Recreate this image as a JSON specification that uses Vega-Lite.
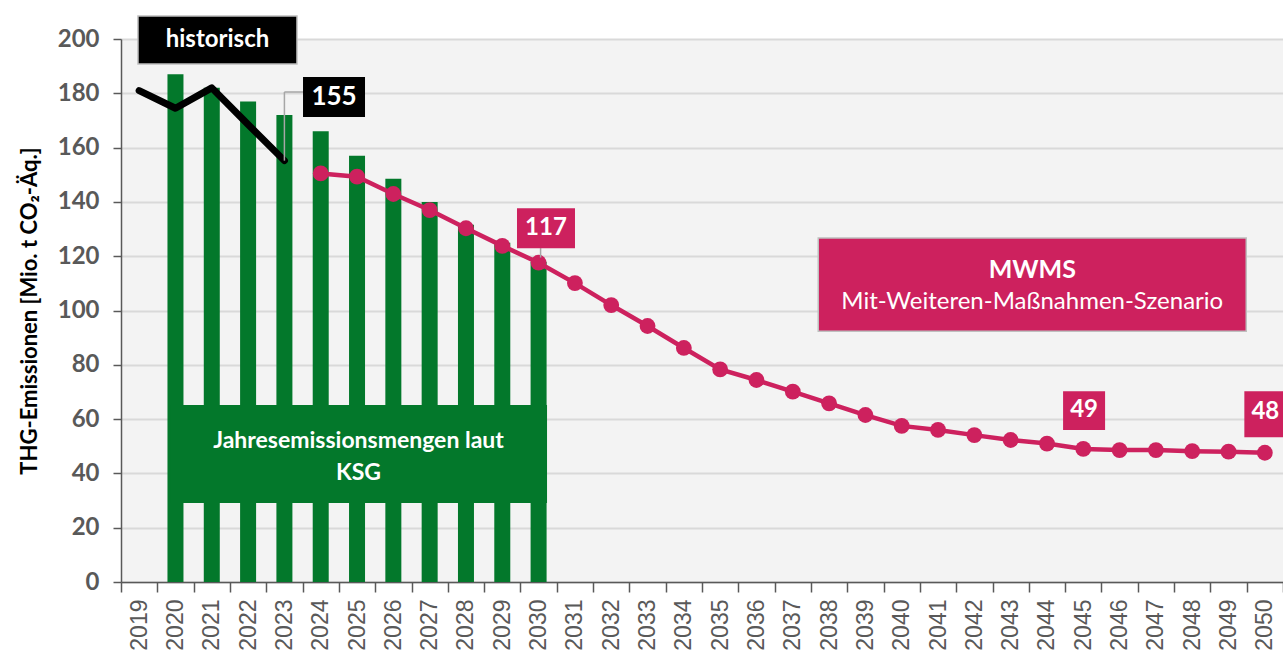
{
  "$schema": "https://vega.github.io/schema/vega-lite/v6.json",
  "width": 1162,
  "height": 543,
  "autosize": "none",
  "padding": {"left": 121, "top": 39, "right": 0, "bottom": 75},
  "background": "white",
  "config": {
    "view": {"stroke": null, "fill": "#f3f3f3"},
    "font": "Lato"
  },
  "datasets": {
    "series": [
      {"year": "2019", "ksg": null, "hist": 181, "mwms": null},
      {"year": "2020", "ksg": 187, "hist": 174.5, "mwms": null},
      {"year": "2021", "ksg": 182, "hist": 182, "mwms": null},
      {"year": "2022", "ksg": 177, "hist": 168.5, "mwms": null},
      {"year": "2023", "ksg": 172, "hist": 155.2, "mwms": null},
      {"year": "2024", "ksg": 166, "hist": null, "mwms": 150.5},
      {"year": "2025", "ksg": 157, "hist": null, "mwms": 149.3},
      {"year": "2026", "ksg": 148.5, "hist": null, "mwms": 142.9},
      {"year": "2027", "ksg": 140, "hist": null, "mwms": 137},
      {"year": "2028", "ksg": 131.6, "hist": null, "mwms": 130.3},
      {"year": "2029", "ksg": 125, "hist": null, "mwms": 123.8},
      {"year": "2030", "ksg": 118, "hist": null, "mwms": 117.6},
      {"year": "2031", "ksg": null, "hist": null, "mwms": 110.1},
      {"year": "2032", "ksg": null, "hist": null, "mwms": 102},
      {"year": "2033", "ksg": null, "hist": null, "mwms": 94.3},
      {"year": "2034", "ksg": null, "hist": null, "mwms": 86.2},
      {"year": "2035", "ksg": null, "hist": null, "mwms": 78.3},
      {"year": "2036", "ksg": null, "hist": null, "mwms": 74.4},
      {"year": "2037", "ksg": null, "hist": null, "mwms": 70.1},
      {"year": "2038", "ksg": null, "hist": null, "mwms": 65.8},
      {"year": "2039", "ksg": null, "hist": null, "mwms": 61.5},
      {"year": "2040", "ksg": null, "hist": null, "mwms": 57.5},
      {"year": "2041", "ksg": null, "hist": null, "mwms": 56},
      {"year": "2042", "ksg": null, "hist": null, "mwms": 54.1},
      {"year": "2043", "ksg": null, "hist": null, "mwms": 52.3},
      {"year": "2044", "ksg": null, "hist": null, "mwms": 51},
      {"year": "2045", "ksg": null, "hist": null, "mwms": 49},
      {"year": "2046", "ksg": null, "hist": null, "mwms": 48.6},
      {"year": "2047", "ksg": null, "hist": null, "mwms": 48.6},
      {"year": "2048", "ksg": null, "hist": null, "mwms": 48.2},
      {"year": "2049", "ksg": null, "hist": null, "mwms": 48},
      {"year": "2050", "ksg": null, "hist": null, "mwms": 47.6}
    ]
  },
  "encoding": {
    "x": {
      "field": "year",
      "type": "ordinal",
      "scale": {"paddingInner": 0, "paddingOuter": 0},
      "axis": {
        "title": null,
        "labelAngle": -90,
        "labelFont": "Liberation Sans",
        "labelFontSize": 23,
        "labelColor": "#595959",
        "labelPadding": 7,
        "tickBand": "extent",
        "tickSize": 10,
        "tickColor": "#595959",
        "tickWidth": 1.5,
        "domainColor": "#595959",
        "domainWidth": 1.5,
        "grid": false
      }
    }
  },
  "layer": [
    {
      "data": {"name": "series"},
      "mark": {"type": "bar", "width": 16, "color": "#03782b"},
      "encoding": {
        "y": {
          "field": "ksg",
          "type": "quantitative",
          "scale": {"domain": [0, 200], "nice": false},
          "axis": {
            "title": "THG-Emissionen [Mio. t CO₂-Äq.]",
            "titleFont": "Lato",
            "titleFontSize": 22,
            "titleFontWeight": "bold",
            "titleColor": "#000000",
            "titlePadding": 16,
            "values": [0, 20, 40, 60, 80, 100, 120, 140, 160, 180, 200],
            "labelFont": "Lato",
            "labelFontSize": 24,
            "labelFontWeight": "bold",
            "labelColor": "#595959",
            "labelPadding": 14,
            "tickSize": 8,
            "tickColor": "#595959",
            "tickWidth": 1.5,
            "domainColor": "#595959",
            "domainWidth": 1.5,
            "gridColor": "#d9d9d9",
            "gridWidth": 2
          }
        }
      }
    },
    {
      "data": {"name": "series"},
      "mark": {"type": "line", "color": "#000000", "strokeWidth": 7, "strokeJoin": "round", "strokeCap": "round"},
      "encoding": {"y": {"field": "hist", "type": "quantitative"}}
    },
    {
      "data": {"name": "series"},
      "mark": {"type": "line", "color": "#cd215e", "strokeWidth": 4.5, "point": {"filled": true, "size": 250, "color": "#cd215e"}},
      "encoding": {"y": {"field": "mwms", "type": "quantitative"}}
    },
    {
      "data": {"values": [{"year": "2023", "y1": 155.2, "y2": 180.5}]},
      "mark": {"type": "rule", "color": "#a6a6a6", "strokeWidth": 1.5},
      "encoding": {"y": {"field": "y1", "type": "quantitative"}, "y2": {"field": "y2"}}
    },
    {
      "data": {"values": [{"year": "2023", "yearEnd": "2024", "y1": 180.5}]},
      "mark": {"type": "rule", "color": "#a6a6a6", "strokeWidth": 1.5},
      "encoding": {"x2": {"field": "yearEnd"}, "y": {"field": "y1", "type": "quantitative"}}
    },
    {
      "data": {"values": [{"year": "2030", "y1": 119.5, "y2": 123}]},
      "mark": {"type": "rule", "color": "#a6a6a6", "strokeWidth": 1.5, "xOffset": 2},
      "encoding": {"y": {"field": "y1", "type": "quantitative"}, "y2": {"field": "y2"}}
    },
    {
      "data": {"values": [{"year": "2021", "y1": 190.8, "y2": 208.5}]},
      "mark": {"type": "bar", "width": 159, "xOffset": 5.7, "color": "#000000", "stroke": "#bfbfbf", "strokeWidth": 1.5},
      "encoding": {"y": {"field": "y1", "type": "quantitative"}, "y2": {"field": "y2"}}
    },
    {
      "data": {"values": [{"year": "2024", "y1": 171.3, "y2": 186}]},
      "mark": {"type": "bar", "width": 62, "xOffset": 13.3, "color": "#000000"},
      "encoding": {"y": {"field": "y1", "type": "quantitative"}, "y2": {"field": "y2"}}
    },
    {
      "data": {"values": [{"year": "2030", "y1": 122.9, "y2": 137.7}]},
      "mark": {"type": "bar", "width": 58, "xOffset": 7.4, "color": "#cd215e"},
      "encoding": {"y": {"field": "y1", "type": "quantitative"}, "y2": {"field": "y2"}}
    },
    {
      "data": {"values": [{"year": "2045", "y1": 56, "y2": 70.3}]},
      "mark": {"type": "bar", "width": 42, "xOffset": 0.8, "color": "#cd215e"},
      "encoding": {"y": {"field": "y1", "type": "quantitative"}, "y2": {"field": "y2"}}
    },
    {
      "data": {"values": [{"year": "2050", "y1": 53.3, "y2": 70.3}]},
      "mark": {"type": "bar", "width": 42, "xOffset": 0.5, "color": "#cd215e"},
      "encoding": {"y": {"field": "y1", "type": "quantitative"}, "y2": {"field": "y2"}}
    },
    {
      "data": {"values": [{"year": "2043", "y1": 92.4, "y2": 126.7}]},
      "mark": {"type": "bar", "width": 428, "xOffset": 21.6, "color": "#cd215e", "stroke": "#bfbfbf", "strokeWidth": 1.5},
      "encoding": {"y": {"field": "y1", "type": "quantitative"}, "y2": {"field": "y2"}}
    },
    {
      "data": {"values": [{"year": "2025", "y1": 29.1, "y2": 65.2}]},
      "mark": {"type": "bar", "width": 377, "xOffset": 1.5, "color": "#03782b"},
      "encoding": {"y": {"field": "y1", "type": "quantitative"}, "y2": {"field": "y2"}}
    },
    {
      "data": {"values": [{"year": "2021", "y": 199.6, "label": "historisch"}]},
      "mark": {"type": "text", "xOffset": 5.7, "color": "white", "fontSize": 24, "fontWeight": "bold", "font": "Lato", "baseline": "middle"},
      "encoding": {"y": {"field": "y", "type": "quantitative"}, "text": {"field": "label"}}
    },
    {
      "data": {"values": [{"year": "2024", "y": 178.6, "label": "155"}]},
      "mark": {"type": "text", "xOffset": 13.3, "color": "white", "fontSize": 26, "fontWeight": "bold", "font": "Lato", "baseline": "middle"},
      "encoding": {"y": {"field": "y", "type": "quantitative"}, "text": {"field": "label"}}
    },
    {
      "data": {"values": [{"year": "2030", "y": 130.3, "label": "117"}]},
      "mark": {"type": "text", "xOffset": 7.4, "color": "white", "fontSize": 24, "fontWeight": "bold", "font": "Lato", "baseline": "middle"},
      "encoding": {"y": {"field": "y", "type": "quantitative"}, "text": {"field": "label"}}
    },
    {
      "data": {"values": [{"year": "2045", "y": 63.2, "label": "49"}]},
      "mark": {"type": "text", "xOffset": 0.8, "color": "white", "fontSize": 24, "fontWeight": "bold", "font": "Lato", "baseline": "middle"},
      "encoding": {"y": {"field": "y", "type": "quantitative"}, "text": {"field": "label"}}
    },
    {
      "data": {"values": [{"year": "2050", "y": 62.7, "label": "48"}]},
      "mark": {"type": "text", "xOffset": 0.5, "color": "white", "fontSize": 24, "fontWeight": "bold", "font": "Lato", "baseline": "middle"},
      "encoding": {"y": {"field": "y", "type": "quantitative"}, "text": {"field": "label"}}
    },
    {
      "data": {"values": [{"year": "2043", "y": 115, "label": "MWMS"}]},
      "mark": {"type": "text", "xOffset": 21.6, "color": "white", "fontSize": 25, "fontWeight": "bold", "font": "Lato", "baseline": "middle"},
      "encoding": {"y": {"field": "y", "type": "quantitative"}, "text": {"field": "label"}}
    },
    {
      "data": {"values": [{"year": "2043", "y": 103.2, "label": "Mit-Weiteren-Maßnahmen-Szenario"}]},
      "mark": {"type": "text", "xOffset": 21.6, "color": "white", "fontSize": 24, "font": "Lato", "baseline": "middle"},
      "encoding": {"y": {"field": "y", "type": "quantitative"}, "text": {"field": "label"}}
    },
    {
      "data": {"values": [{"year": "2025", "y": 51.9, "label": "Jahresemissionsmengen laut"}, {"year": "2025", "y": 40.3, "label": "KSG"}]},
      "mark": {"type": "text", "xOffset": 1.5, "color": "white", "fontSize": 23, "fontWeight": "bold", "font": "Lato", "baseline": "middle"},
      "encoding": {"y": {"field": "y", "type": "quantitative"}, "text": {"field": "label"}}
    }
  ]
}
